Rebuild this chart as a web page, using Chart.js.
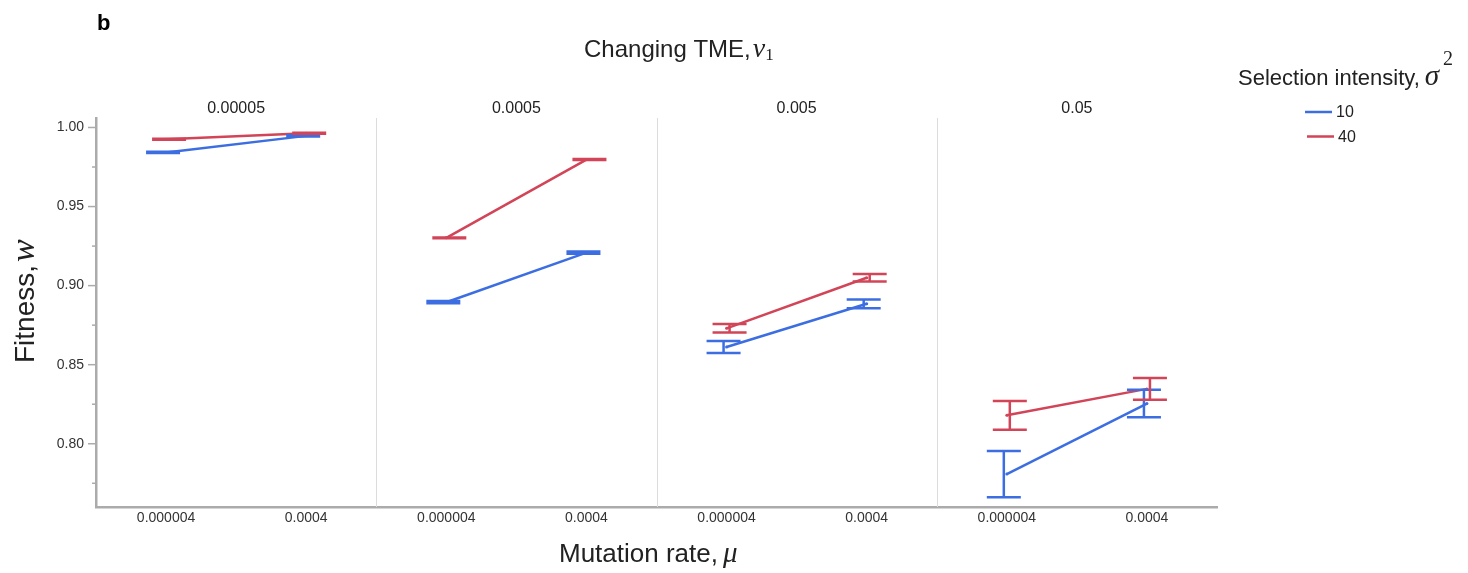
<!DOCTYPE html>
<html>
<head>
<meta charset="utf-8">
<script src="https://cdn.jsdelivr.net/npm/chart.js@4.4.1/dist/chart.umd.min.js"></script>
<style>
  html, body { margin: 0; padding: 0; background: #fff; }
</style>
</head>
<body>
<canvas id="fitness" width="1468" height="573"></canvas>
<script>
const mutationRates = ['0.000004', '0.0004'];
const tmeRates = ['0.00005', '0.0005', '0.005', '0.05'];
const selectionIntensities = ['10', '40'];

// mean fitness per (TME, mutation rate) pair, and its error half-width
const fitnessSigma10 = [0.9842, 0.9947, 0.8895, 0.9209, 0.8612, 0.8885, 0.7808, 0.8254];
const errorSigma10 = [0.0004, 0.0004, 0.0007, 0.0007, 0.0038, 0.0028, 0.0146, 0.0087];
const fitnessSigma40 = [0.9925, 0.9963, 0.9302, 0.9797, 0.8730, 0.9050, 0.8180, 0.8347];
const errorSigma40 = [0.0003, 0.0003, 0.0003, 0.0003, 0.0027, 0.0024, 0.0091, 0.0069];

const yMajorTicks = [0.80, 0.85, 0.90, 0.95, 1.00];
const yMinorTicks = [0.775, 0.825, 0.875, 0.925, 0.975];

const BLUE = '#3C6EE1';
const RED = '#D24457';
const AXIS = '#ababab';
const TEXT = '#222';
const SANS = '"Liberation Sans", Arial, Helvetica, sans-serif';
const SERIF = '"Liberation Serif", "DejaVu Serif", serif';

const categories = tmeRates.flatMap(() => mutationRates);

// no line between the last point of one panel and the first of the next
const panelSegment = {
  borderColor: ctx => (ctx.p0DataIndex % 2 === 1 ? 'rgba(0,0,0,0)' : undefined),
};

function series(label, data, errors, color, dodge, order) {
  return {
    label,
    data,
    errors,
    dodge,
    order,
    borderColor: color,
    backgroundColor: color,
    borderWidth: 2.5,
    pointRadius: 1.5,
    pointBorderWidth: 0,
    segment: panelSegment,
  };
}

const isMajor = v => yMajorTicks.some(t => Math.abs(t - v) < 1e-9);

const errorBars = {
  id: 'errorBars',
  afterDatasetsDraw(chart) {
    const { ctx, scales: { y } } = chart;
    const sets = chart.data.datasets;
    const idx = sets.map((d, i) => i).sort((a, b) => sets[b].order - sets[a].order);
    idx.forEach(i => {
      const ds = sets[i];
      const meta = chart.getDatasetMeta(i);
      ctx.save();
      ctx.strokeStyle = ds.borderColor;
      ctx.lineWidth = 2.5;
      meta.data.forEach((pt, j) => {
        const x = pt.x + ds.dodge;
        const top = y.getPixelForValue(ds.data[j] + ds.errors[j]);
        const bottom = y.getPixelForValue(ds.data[j] - ds.errors[j]);
        ctx.beginPath();
        ctx.moveTo(x, top);
        ctx.lineTo(x, bottom);
        ctx.moveTo(x - 17, top);
        ctx.lineTo(x + 17, top);
        ctx.moveTo(x - 17, bottom);
        ctx.lineTo(x + 17, bottom);
        ctx.stroke();
      });
      ctx.restore();
    });
  },
};

// panel separators and the y tick marks (majors longer than minors)
const panelGrid = {
  id: 'panelGrid',
  beforeDatasetsDraw(chart) {
    const { ctx, chartArea, scales: { x, y } } = chart;
    ctx.save();
    ctx.strokeStyle = '#dcdcdc';
    ctx.lineWidth = 1;
    for (let p = 1; p < tmeRates.length; p++) {
      const px = Math.round((x.getPixelForValue(p * 2 - 1) + x.getPixelForValue(p * 2)) / 2) + 0.5;
      ctx.beginPath();
      ctx.moveTo(px, chartArea.top);
      ctx.lineTo(px, chartArea.bottom);
      ctx.stroke();
    }
    ctx.strokeStyle = AXIS;
    ctx.lineWidth = 1.5;
    const left = chartArea.left;
    yMajorTicks.concat(yMinorTicks).forEach(v => {
      const py = y.getPixelForValue(v);
      const len = isMajor(v) ? 8 : 4;
      ctx.beginPath();
      ctx.moveTo(left - len, py);
      ctx.lineTo(left, py);
      ctx.stroke();
    });
    ctx.restore();
  },
};

// draws a run of text pieces with different fonts side by side
function drawRun(ctx, parts, x, y) {
  let cx = x;
  parts.forEach(p => {
    ctx.font = p.font;
    ctx.fillText(p.text, cx, y + (p.dy || 0));
    cx += ctx.measureText(p.text).width + (p.gap || 0);
  });
}

const annotations = {
  id: 'annotations',
  afterDraw(chart) {
    const { ctx, scales: { x } } = chart;
    ctx.save();
    ctx.textBaseline = 'alphabetic';
    ctx.textAlign = 'left';

    ctx.font = `bold 22px ${SANS}`;
    ctx.fillStyle = '#000';
    ctx.fillText('b', 97, 30);
    ctx.fillStyle = TEXT;

    drawRun(ctx, [
      { text: 'Changing TME,', font: `24px ${SANS}`, gap: 2 },
      { text: 'v', font: `italic 28px ${SERIF}` },
      { text: '1', font: `17px ${SERIF}`, dy: 3 },
    ], 584, 57);

    // facet strip labels
    ctx.textAlign = 'center';
    ctx.font = `16px ${SANS}`;
    tmeRates.forEach((rate, p) => {
      const cx = (x.getPixelForValue(p * 2) + x.getPixelForValue(p * 2 + 1)) / 2;
      ctx.fillText(rate, cx, 113);
    });
    ctx.textAlign = 'left';

    drawRun(ctx, [
      { text: 'Mutation rate,', font: `26px ${SANS}`, gap: 5 },
      { text: 'μ', font: `italic 29px ${SERIF}` },
    ], 559, 562);

    ctx.save();
    ctx.translate(34, 363);
    ctx.rotate(-Math.PI / 2);
    drawRun(ctx, [
      { text: 'Fitness,', font: `28px ${SANS}`, gap: 3 },
      { text: 'w', font: `italic 34px ${SERIF}` },
    ], 0, 0);
    ctx.restore();

    // legend
    drawRun(ctx, [
      { text: 'Selection intensity,', font: `22px ${SANS}`, gap: 5 },
      { text: 'σ', font: `italic 29px ${SERIF}`, gap: 4 },
      { text: '2', font: `20px ${SERIF}`, dy: -20 },
    ], 1238, 85);

    const legendColors = [BLUE, RED];
    selectionIntensities.forEach((s, i) => {
      const ly = 112 + i * 24.5;
      ctx.strokeStyle = legendColors[i];
      ctx.lineWidth = 2.5;
      ctx.beginPath();
      ctx.moveTo(1305 + i * 2, ly);
      ctx.lineTo(1332 + i * 2, ly);
      ctx.stroke();
      ctx.font = `16px ${SANS}`;
      ctx.textBaseline = 'middle';
      ctx.fillText(s, 1336 + i * 2, ly + 1);
      ctx.textBaseline = 'alphabetic';
    });
    ctx.restore();
  },
};

new Chart(document.getElementById('fitness'), {
  type: 'line',
  data: {
    labels: categories,
    datasets: [
      series(selectionIntensities[0], fitnessSigma10, errorSigma10, BLUE, -3, 1),
      series(selectionIntensities[1], fitnessSigma40, errorSigma40, RED, 3, 0),
    ],
  },
  options: {
    responsive: false,
    animation: false,
    layout: { padding: { top: 118, right: 251, left: 0, bottom: 0 } },
    plugins: {
      legend: { display: false },
      tooltip: { enabled: false },
    },
    scales: {
      x: {
        type: 'category',
        offset: true,
        grid: { display: true, drawOnChartArea: false, drawTicks: false },
        border: { color: AXIS, width: 2.5 },
        ticks: {
          color: '#333',
          font: { family: SANS, size: 14 },
          padding: 3,
          maxRotation: 0,
          autoSkip: false,
        },
        afterFit: scale => { scale.height = 66; },
      },
      y: {
        min: 0.76,
        max: 1.006,
        grid: { display: true, drawOnChartArea: false, drawTicks: false },
        border: { color: AXIS, width: 2.5 },
        afterBuildTicks: scale => {
          scale.ticks = yMinorTicks.concat(yMajorTicks).sort((a, b) => a - b).map(v => ({ value: v }));
        },
        ticks: {
          color: '#333',
          font: { family: SANS, size: 14 },
          padding: 12,
          callback: v => (isMajor(v) ? v.toFixed(2) : ''),
        },
        afterFit: scale => { scale.width = 96; },
      },
    },
  },
  plugins: [panelGrid, errorBars, annotations],
});
</script>
</body>
</html>
